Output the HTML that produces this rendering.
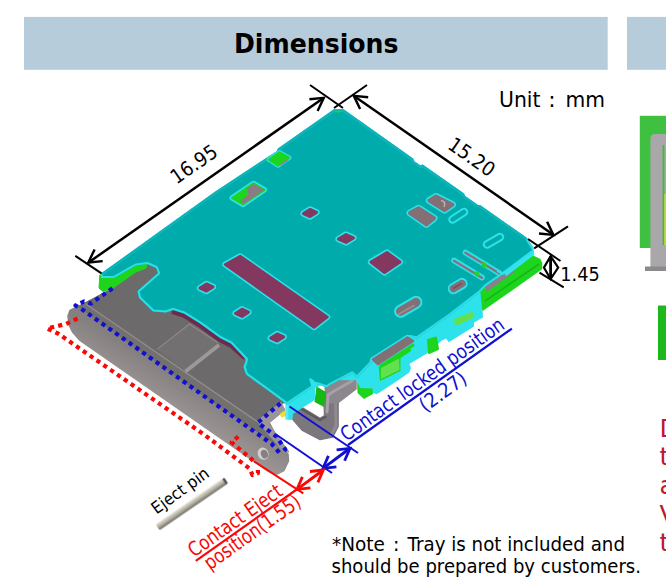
<!DOCTYPE html>
<html lang="en"><head><meta charset="utf-8"><title>Dimensions</title>
<style>
html,body{margin:0;padding:0;background:#fff;}
body{width:666px;height:584px;overflow:hidden;}
svg{display:block;font-family:"DejaVu Sans", "Liberation Sans", sans-serif;}
</style></head><body>
<svg width="666" height="584" viewBox="0 0 666 584">
<defs><filter id="soft" x="-5%" y="-5%" width="110%" height="110%"><feGaussianBlur stdDeviation="0.7"/></filter></defs>
<rect width="666" height="584" fill="#fff"/>
<rect x="24" y="16.9" width="583.7" height="52.9" fill="#b7ccdb"/>
<rect x="627" y="16.9" width="39" height="52.9" fill="#b7ccdb"/>
<text x="316.2" y="53.3" font-size="27.2" fill="#000" text-anchor="middle" font-weight="bold" textLength="164.5" lengthAdjust="spacingAndGlyphs" >Dimensions</text>
<text x="499" y="106.7" font-size="22" fill="#000" text-anchor="start" font-weight="normal" textLength="41.5" lengthAdjust="spacingAndGlyphs" >Unit</text>
<text x="548.2" y="106.7" font-size="22" fill="#000" text-anchor="start" font-weight="normal" >:</text>
<text x="565.5" y="106.7" font-size="22" fill="#000" text-anchor="start" font-weight="normal" textLength="39.5" lengthAdjust="spacingAndGlyphs" >mm</text>
<g filter="url(#soft)">
<rect x="639.8" y="115.8" width="30" height="132.2" fill="#3fc03f"/>
<path d="M650.4 270 V139 q0 -5 5 -5 H670 V270 Z" fill="#aaa7ab"/>
<rect x="645" y="266.5" width="25" height="4.5" fill="#8c8a8c"/>
<rect x="662.6" y="145" width="1.8" height="100" fill="#35c035"/>
<rect x="664.3" y="194" width="4" height="51" fill="#c3dc2c"/>
<rect x="658" y="305.5" width="10" height="54.5" fill="#1fb81f"/>
</g>
<text x="659.5" y="437" font-size="25" fill="#bc1830" text-anchor="start" font-weight="normal" >D</text>
<text x="659.5" y="465" font-size="25" fill="#bc1830" text-anchor="start" font-weight="normal" >t</text>
<text x="659.5" y="494" font-size="25" fill="#bc1830" text-anchor="start" font-weight="normal" >a</text>
<text x="659.5" y="523" font-size="25" fill="#bc1830" text-anchor="start" font-weight="normal" >V</text>
<text x="659.5" y="551" font-size="25" fill="#bc1830" text-anchor="start" font-weight="normal" >t</text>
<g id="tray" filter="url(#soft)">
<defs><linearGradient id="tg" gradientUnits="userSpaceOnUse" x1="150" y1="360" x2="132" y2="390"><stop offset="0" stop-color="#858080"/><stop offset="1" stop-color="#9c9695"/></linearGradient></defs>
<polygon points="76.0,307.5 70.0,310.5 68.0,316.0 69.0,325.0 72.5,332.0 80.0,340.5 268.5,471.4 277.0,474.0 284.0,470.5 288.5,461.0 288.0,454.0 283.0,449.0 270.0,424.0 250.0,400.0 150.0,320.0 100.0,300.0" fill="url(#tg)" stroke="url(#tg)" stroke-width="1.5" stroke-linejoin="round" />
<polygon points="78.0,306.5 112.0,288.5 146.0,263.0 162.0,268.0 300.0,380.0 300.0,400.0 281.0,403.5 257.5,423.0 283.0,449.0" fill="#6c6a6a" stroke="#6c6a6a" stroke-width="1" stroke-linejoin="round" />
<polygon points="84.0,302.7 150.0,348.0 257.0,421.4 257.5,423.5 283.0,449.0 212.6,402.5 83.0,310.5 78.0,306.8" fill="#737070" />
<polygon points="257.0,421.0 281.0,402.5 285.0,410.0 268.5,423.5 289.0,452.0 284.0,452.0" fill="#9b9595" stroke="#9b9595" stroke-width="1" stroke-linejoin="round" />
<polyline points="172.0,311.5 184.0,315.5 200.0,325.5 220.0,340.0 231.0,345.5 245.0,358.0" fill="none" stroke="#6d2c50" stroke-width="4.5" />
<polyline points="84.0,302.7 150.0,348.0 257.0,421.4" fill="none" stroke="#938d8d" stroke-width="1.3" />
<polygon points="157.0,349.4 189.5,324.0 218.3,343.0 185.0,370.5" fill="#727070" />
<polyline points="157.0,349.4 189.5,324.0 218.3,343.0" fill="none" stroke="#8f8989" stroke-width="1.2" />
<polyline points="219.0,345.0 185.5,371.5" fill="none" stroke="#9d9999" stroke-width="3.8" />
<ellipse cx="263" cy="454" rx="5.4" ry="6.2" fill="#d2cece" transform="rotate(-20 262 453.5)"/>
<ellipse cx="264.3" cy="454.5" rx="3.4" ry="4.4" fill="#858080" transform="rotate(-20 263 454)"/>
</g>
<g id="conn" filter="url(#soft)">
<polygon points="323.7,392.0 338.1,392.0 338.1,426.5 332.7,437.0 320.1,439.5 302.0,430.0 292.7,419.3 291.3,408.0 300.3,406.7 309.3,412.0 320.0,418.4 324.6,415.7" fill="#7b777c" stroke="#7b777c" stroke-width="1.5" stroke-linejoin="round" />
<polyline points="301.0,408.5 309.0,413.5 320.0,420.0 325.5,417.0" fill="none" stroke="#5d595e" stroke-width="2.5" stroke-linecap="round" stroke-linejoin="round"/>
<polyline points="335.5,398.0 336.0,426.0 331.0,435.0" fill="none" stroke="#8f8b90" stroke-width="3" stroke-linecap="round" stroke-linejoin="round"/>
<polygon points="325.0,388.0 330.0,384.0 352.0,374.0 356.0,379.5 356.0,389.0 339.0,402.0 329.0,403.0" fill="#8b878c" stroke="#8b878c" stroke-width="1.5" stroke-linejoin="round" />
<polyline points="352.0,381.0 335.0,390.5 328.0,395.0 327.0,412.0" fill="none" stroke="#a5a1a6" stroke-width="3" stroke-linecap="round" stroke-linejoin="round"/>
<polygon points="279.5,414.0 285.0,410.5 286.0,416.0 281.5,417.5" fill="#e8e030" />
<polygon points="285.5,400.0 285.5,419.5 292.5,420.0 293.0,414.0 314.7,400.0 315.5,388.0 330.0,380.0 357.0,380.3 359.0,389.5 373.2,393.0 376.8,394.2 398.5,380.0 409.3,372.5 411.0,367.7 409.3,364.0 427.3,353.2 441.6,340.7 446.0,338.5 448.8,342.3 474.0,326.5 474.0,322.5 483.0,317.5 481.5,289.0 450.0,300.0 350.0,350.0 300.0,380.0" fill="#2ee2ec" />
<polyline points="287.0,404.5 287.0,419.0" fill="none" stroke="#5ee9f2" stroke-width="2.4" />
<polygon points="316.5,386.5 326.0,392.0 324.0,407.0 314.5,402.0" fill="#14b814" />
<polygon points="357.0,381.0 360.0,388.0 372.5,388.5 373.0,394.0 364.0,399.0 357.5,393.0" fill="#1fd51f" />
<polygon points="378.5,365.0 410.0,345.0 411.0,351.0 400.5,358.0 400.5,371.0 380.0,381.0" fill="#1fd51f" />
<polygon points="381.0,368.0 399.0,358.5 399.5,370.0 381.0,379.0" fill="#62e04e" />
<polygon points="428.0,340.0 436.0,337.5 438.0,349.0 429.0,353.0" fill="#1fd51f" stroke="#1fd51f" stroke-width="2" stroke-linejoin="round" />
<polygon points="454.0,319.0 473.0,311.5 474.0,317.5 455.0,326.5" fill="#62e04e" />
<polygon points="481.0,291.0 486.0,286.0 504.0,272.0 529.0,254.0 534.5,257.0 539.8,259.5 541.6,263.0 541.3,269.0 483.0,310.0" fill="#1fd51f" stroke="#1fd51f" stroke-width="1.5" stroke-linejoin="round" />
<polyline points="485.0,301.0 539.0,264.0" fill="none" stroke="#12b812" stroke-width="1.6" />
<polygon points="485.5,284.5 503.7,273.7 514.0,268.0 514.5,272.0 486.5,292.0" fill="#8a8088" />
<polygon points="99.8,275.0 114.0,275.0 136.0,262.0 148.0,262.0 146.0,268.0 135.0,272.5 113.0,288.0 103.0,291.5 99.0,288.0" fill="#1fd51f" stroke="#1fd51f" stroke-width="1" stroke-linejoin="round" />
<clipPath id="topc"><polygon points="334.0,109.3 343.5,109.3 413.0,158.5 414.5,161.5 420.5,165.5 422.5,164.5 464.0,193.5 465.0,196.0 478.0,205.0 480.0,205.0 527.0,238.0 533.5,248.0 533.5,251.5 504.0,273.5 486.0,286.0 480.5,292.0 450.0,315.5 417.0,338.5 410.0,337.0 372.0,360.0 371.5,363.0 357.0,378.0 352.0,373.5 330.0,385.0 327.0,387.5 316.5,384.0 313.0,387.0 287.0,404.5 266.0,389.0 246.0,374.5 243.5,367.0 246.0,359.5 231.0,343.5 220.0,338.0 200.0,323.5 184.0,313.5 173.0,310.0 166.0,312.5 153.0,311.5 139.0,298.0 137.5,291.0 158.0,273.0 156.0,268.0 147.0,264.0 136.0,265.5 114.0,278.0 101.0,278.0 101.0,273.5 215.0,191.8 265.5,158.5 276.5,151.5 278.0,148.5"/></clipPath>
<polygon points="334.0,109.3 343.5,109.3 413.0,158.5 414.5,161.5 420.5,165.5 422.5,164.5 464.0,193.5 465.0,196.0 478.0,205.0 480.0,205.0 527.0,238.0 533.5,248.0 533.5,251.5 504.0,273.5 486.0,286.0 480.5,292.0 450.0,315.5 417.0,338.5 410.0,337.0 372.0,360.0 371.5,363.0 357.0,378.0 352.0,373.5 330.0,385.0 327.0,387.5 316.5,384.0 313.0,387.0 287.0,404.5 266.0,389.0 246.0,374.5 243.5,367.0 246.0,359.5 231.0,343.5 220.0,338.0 200.0,323.5 184.0,313.5 173.0,310.0 166.0,312.5 153.0,311.5 139.0,298.0 137.5,291.0 158.0,273.0 156.0,268.0 147.0,264.0 136.0,265.5 114.0,278.0 101.0,278.0 101.0,273.5 215.0,191.8 265.5,158.5 276.5,151.5 278.0,148.5" fill="#05abac"/>
<polygon points="334.0,109.3 343.5,109.3 413.0,158.5 414.5,161.5 420.5,165.5 422.5,164.5 464.0,193.5 465.0,196.0 478.0,205.0 480.0,205.0 527.0,238.0 533.5,248.0 533.5,251.5 504.0,273.5 486.0,286.0 480.5,292.0 450.0,315.5 417.0,338.5 410.0,337.0 372.0,360.0 371.5,363.0 357.0,378.0 352.0,373.5 330.0,385.0 327.0,387.5 316.5,384.0 313.0,387.0 287.0,404.5 266.0,389.0 246.0,374.5 243.5,367.0 246.0,359.5 231.0,343.5 220.0,338.0 200.0,323.5 184.0,313.5 173.0,310.0 166.0,312.5 153.0,311.5 139.0,298.0 137.5,291.0 158.0,273.0 156.0,268.0 147.0,264.0 136.0,265.5 114.0,278.0 101.0,278.0 101.0,273.5 215.0,191.8 265.5,158.5 276.5,151.5 278.0,148.5" fill="none" stroke="#2ee2ec" stroke-width="4.2" stroke-linejoin="round" clip-path="url(#topc)" opacity="0.9"/>
<polyline points="101.0,273.5 215.0,191.8 265.5,158.5 276.5,151.5 278.0,148.5 334.0,109.3 343.5,109.3 413.0,158.5 414.5,161.5 420.5,165.5 422.5,164.5 464.0,193.5 465.0,196.0 478.0,205.0 480.0,205.0 527.0,238.0" fill="none" stroke="#0fb3b9" stroke-width="4.6" stroke-linejoin="round" clip-path="url(#topc)"/>
<polygon points="309.0,378.5 311.5,378.5 317.5,384.0 314.0,388.5 311.5,387.0" fill="#2ee2ec" />
<circle cx="338.3" cy="111.6" r="1.3" fill="#22d422"/>
<polygon points="505.0,273.3 533.6,250.3 534.3,254.8 506.0,276.3" fill="#35e4ee" />
<polygon points="268.4,159.7 279.4,152.0 289.7,157.6 278.0,165.8" fill="#2ee2ec" stroke="#2ee2ec" stroke-width="3.9" stroke-linejoin="round"/>
<polygon points="268.4,159.7 279.4,152.0 289.7,157.6 278.0,165.8" fill="#1fd51f" stroke="#1fd51f" stroke-width="1.5" stroke-linejoin="round"/>
<polygon points="279.0,165.0 289.5,158.0 287.0,161.5 281.0,165.5" fill="#8a8088" />
<polygon points="232.0,198.0 253.4,183.3 264.5,189.8 243.0,204.5" fill="#2ee2ec" stroke="#2ee2ec" stroke-width="5.2" stroke-linejoin="round"/>
<polygon points="232.0,198.0 253.4,183.3 264.5,189.8 243.0,204.5" fill="#1fd51f" stroke="#1fd51f" stroke-width="2" stroke-linejoin="round"/>
<polygon points="247.0,188.0 254.0,184.0 264.5,189.8 244.0,204.0 240.0,201.5 248.0,195.0" fill="#8a7c84" />
<polygon points="225.0,264.5 240.2,256.0 327.5,317.0 314.0,327.5" fill="#2ee2ec" stroke="#2ee2ec" stroke-width="5.5" stroke-linejoin="round"/>
<polygon points="225.0,264.5 240.2,256.0 327.5,317.0 314.0,327.5" fill="#85385e" stroke="#85385e" stroke-width="2.5" stroke-linejoin="round"/>
<polygon points="303.5,213.6 310.0,209.4 316.5,212.4 310.0,216.6" fill="#2ee2ec" stroke="#2ee2ec" stroke-width="6.2" stroke-linejoin="round"/>
<polygon points="303.5,213.6 310.0,209.4 316.5,212.4 310.0,216.6" fill="#85385e" stroke="#85385e" stroke-width="3" stroke-linejoin="round"/>
<polygon points="338.5,239.1 346.0,234.5 353.5,237.9 346.0,242.5" fill="#2ee2ec" stroke="#2ee2ec" stroke-width="6.2" stroke-linejoin="round"/>
<polygon points="338.5,239.1 346.0,234.5 353.5,237.9 346.0,242.5" fill="#85385e" stroke="#85385e" stroke-width="3" stroke-linejoin="round"/>
<polygon points="371.0,262.0 387.0,252.5 400.0,262.0 384.5,272.5" fill="#2ee2ec" stroke="#2ee2ec" stroke-width="6.2" stroke-linejoin="round"/>
<polygon points="371.0,262.0 387.0,252.5 400.0,262.0 384.5,272.5" fill="#85385e" stroke="#85385e" stroke-width="3" stroke-linejoin="round"/>
<polygon points="200.0,288.1 206.5,283.9 213.0,286.9 206.5,291.1" fill="#2ee2ec" stroke="#2ee2ec" stroke-width="6.2" stroke-linejoin="round"/>
<polygon points="200.0,288.1 206.5,283.9 213.0,286.9 206.5,291.1" fill="#85385e" stroke="#85385e" stroke-width="3" stroke-linejoin="round"/>
<polygon points="235.5,313.4 242.0,309.2 248.5,312.2 242.0,316.4" fill="#2ee2ec" stroke="#2ee2ec" stroke-width="6.2" stroke-linejoin="round"/>
<polygon points="235.5,313.4 242.0,309.2 248.5,312.2 242.0,316.4" fill="#85385e" stroke="#85385e" stroke-width="3" stroke-linejoin="round"/>
<polygon points="270.7,338.1 277.2,333.9 283.7,336.9 277.2,341.1" fill="#2ee2ec" stroke="#2ee2ec" stroke-width="6.2" stroke-linejoin="round"/>
<polygon points="270.7,338.1 277.2,333.9 283.7,336.9 277.2,341.1" fill="#85385e" stroke="#85385e" stroke-width="3" stroke-linejoin="round"/>
<polygon points="429.3,200.6 436.0,196.5 452.4,204.7 444.5,210.0" fill="#2ee2ec" stroke="#2ee2ec" stroke-width="7.0" stroke-linejoin="round"/>
<polygon points="429.3,200.6 436.0,196.5 452.4,204.7 444.5,210.0" fill="#836f76" stroke="#836f76" stroke-width="4" stroke-linejoin="round"/>
<path d="M441 200.5 q5.5 1 3 6.5" fill="none" stroke="#b9aeb3" stroke-width="1.6"/>
<polygon points="410.0,213.0 418.5,208.2 434.0,218.2 426.4,224.4" fill="#2ee2ec" stroke="#2ee2ec" stroke-width="7.0" stroke-linejoin="round"/>
<polygon points="410.0,213.0 418.5,208.2 434.0,218.2 426.4,224.4" fill="#836f76" stroke="#836f76" stroke-width="4" stroke-linejoin="round"/>
<line x1="452.5" y1="219.5" x2="464" y2="212" stroke="#2ee2ec" stroke-width="8.5" stroke-linecap="round"/>
<line x1="452.5" y1="219.5" x2="464" y2="212" stroke="#05abac" stroke-width="4.5" stroke-linecap="round"/>
<line x1="487" y1="244.5" x2="500" y2="237" stroke="#2ee2ec" stroke-width="8.5" stroke-linecap="round"/>
<line x1="487" y1="244.5" x2="500" y2="237" stroke="#05abac" stroke-width="4.5" stroke-linecap="round"/>
<line x1="465.5" y1="252.5" x2="499" y2="273" stroke="#2ee2ec" stroke-width="5.6" stroke-linecap="round"/>
<line x1="465.5" y1="252.8" x2="499" y2="273.3" stroke="#8a6f7c" stroke-width="2.4" stroke-linecap="round"/>
<line x1="454" y1="260.5" x2="482" y2="277.5" stroke="#2ee2ec" stroke-width="5.6" stroke-linecap="round"/>
<line x1="454" y1="260.8" x2="482" y2="277.8" stroke="#8a6f7c" stroke-width="2.4" stroke-linecap="round"/>
<polygon points="481.0,263.0 485.0,262.0 487.5,267.0 483.0,268.0" fill="#1fd51f" />
<polygon points="474.0,272.0 478.0,271.0 480.0,275.5 476.0,276.5" fill="#1fd51f" />
<polyline points="497.0,271.0 503.5,273.5 532.0,252.0" fill="none" stroke="#2ee2ec" stroke-width="2.4" stroke-linejoin="round"/>
<line x1="453.5" y1="288.6" x2="462" y2="283.6" stroke="#2ee2ec" stroke-width="11.5" stroke-linecap="round"/>
<line x1="453.5" y1="288.6" x2="462" y2="283.6" stroke="#836f76" stroke-width="7.5" stroke-linecap="round"/>
<line x1="453" y1="288.5" x2="462" y2="283.3" stroke="#7a4a66" stroke-width="1.5" />
<line x1="400.5" y1="311.3" x2="416" y2="302.3" stroke="#2ee2ec" stroke-width="13" stroke-linecap="round"/>
<line x1="400.5" y1="311.3" x2="416" y2="302.3" stroke="#836f76" stroke-width="9" stroke-linecap="round"/>
<line x1="399" y1="314" x2="414" y2="305.5" stroke="#9a8e94" stroke-width="2" stroke-linecap="round"/>
<polygon points="373.0,359.5 407.5,337.5 413.0,341.0 378.0,364.0" fill="#2ee2ec" stroke="#2ee2ec" stroke-width="5.3" stroke-linejoin="round"/>
<polygon points="373.0,359.5 407.5,337.5 413.0,341.0 378.0,364.0" fill="#836f76" stroke="#836f76" stroke-width="2.5" stroke-linejoin="round"/>
<polyline points="380.0,366.5 414.0,344.5" fill="none" stroke="#1fd51f" stroke-width="3" />
</g>
<line x1="88.5" y1="262.5" x2="323.5" y2="98" stroke="#000" stroke-width="2.5" />
<polyline points="309.4,99.2 323.8,97.8 317.6,110.9" fill="none" stroke="#000" stroke-width="2.4" stroke-linejoin="miter"/>
<polyline points="102.7,261.1 88.3,262.5 94.6,249.4" fill="none" stroke="#000" stroke-width="2.4" stroke-linejoin="miter"/>
<line x1="354" y1="96" x2="553" y2="234.5" stroke="#000" stroke-width="2.5" />
<polyline points="360.1,108.9 353.8,95.8 368.2,97.2" fill="none" stroke="#000" stroke-width="2.4" stroke-linejoin="miter"/>
<polyline points="547.1,221.8 553.4,234.9 539.0,233.5" fill="none" stroke="#000" stroke-width="2.4" stroke-linejoin="miter"/>
<line x1="75.3" y1="255.8" x2="101.5" y2="273.3" stroke="#000" stroke-width="2" />
<line x1="310" y1="85" x2="343" y2="108" stroke="#000" stroke-width="2" />
<line x1="367" y1="85" x2="334" y2="108" stroke="#000" stroke-width="2" />
<line x1="568" y1="226.3" x2="534.2" y2="248.4" stroke="#000" stroke-width="2" />
<line x1="528" y1="239" x2="560.5" y2="261" stroke="#000" stroke-width="2" />
<line x1="539.5" y1="272.6" x2="563.7" y2="287.4" stroke="#000" stroke-width="2" />
<line x1="550.6" y1="256" x2="550.6" y2="279" stroke="#000" stroke-width="2.8" />
<polygon points="543.9,267.6 550.6,256.2 558.2,267.6 550.6,279.0" fill="none" stroke="#000" stroke-width="2.2" stroke-linejoin="miter"/>
<text transform="translate(166.5 207) rotate(-35)" x="21" y="-12.5" font-size="20" fill="#000" textLength="52" lengthAdjust="spacingAndGlyphs">16.95</text>
<text transform="translate(425 144.3) rotate(35)" x="19.5" y="-9.5" font-size="20" fill="#000" textLength="52" lengthAdjust="spacingAndGlyphs">15.20</text>
<text x="560.3" y="281" font-size="19" fill="#000" text-anchor="start" font-weight="normal" textLength="39.5" lengthAdjust="spacingAndGlyphs" >1.45</text>
<line x1="289.5" y1="406.5" x2="358" y2="453" stroke="#1010d0" stroke-width="2" />
<line x1="275.7" y1="434.2" x2="332" y2="473" stroke="#1010d0" stroke-width="2" />
<line x1="324" y1="467.6" x2="349" y2="449" stroke="#1010d0" stroke-width="3" />
<polyline points="336.4,466.8 323.0,468.3 328.4,455.9" fill="none" stroke="#1010d0" stroke-width="2.8" stroke-linejoin="miter"/>
<polyline points="336.6,449.8 350.0,448.3 344.6,460.7" fill="none" stroke="#1010d0" stroke-width="2.8" stroke-linejoin="miter"/>
<line x1="348" y1="445" x2="511.9" y2="328.6" stroke="#1010d0" stroke-width="2.2" />
<text transform="translate(348 445.6) rotate(-35.6)" x="1" y="-3.8" font-size="20" fill="#1010d0" textLength="196" lengthAdjust="spacingAndGlyphs">Contact locked position</text>
<text transform="translate(348 445.6) rotate(-35.6)" x="82" y="18.2" font-size="20" fill="#1010d0" textLength="53" lengthAdjust="spacingAndGlyphs">(2.27)</text>
<line x1="254" y1="461.3" x2="303.3" y2="493.3" stroke="#fa0808" stroke-width="2" />
<line x1="298" y1="488.6" x2="322.3" y2="470.7" stroke="#fa0808" stroke-width="3" />
<polyline points="310.4,487.8 297.0,489.3 302.4,476.9" fill="none" stroke="#fa0808" stroke-width="2.8" stroke-linejoin="miter"/>
<polyline points="309.9,471.5 323.3,470.0 317.9,482.4" fill="none" stroke="#fa0808" stroke-width="2.8" stroke-linejoin="miter"/>
<line x1="296.7" y1="489.5" x2="195.8" y2="560.9" stroke="#fa0808" stroke-width="2.2" />
<text transform="translate(195.8 560.9) rotate(-35.3)" x="0.3" y="-3.5" font-size="20" fill="#fa0808" textLength="110.3" lengthAdjust="spacingAndGlyphs">Contact Eject</text>
<text transform="translate(195.8 560.9) rotate(-35.3)" x="6.1" y="16" font-size="20" fill="#fa0808" textLength="113.2" lengthAdjust="spacingAndGlyphs">position(1.55)</text>
<polyline points="112.5,288.3 91.0,303.5 84.0,301.5 75.5,305.5 83.0,310.0 212.6,402.1 271.5,443.7 280.5,454.0" fill="none" stroke="#1010d0" stroke-width="4.2" stroke-dasharray="4.2 4.1" stroke-linejoin="round"/>
<polyline points="280.5,403.3 257.8,422.7 276.3,436.5 285.3,449.5 281.5,453.0" fill="none" stroke="#1010d0" stroke-width="4.2" stroke-dasharray="4.2 4.1" stroke-linejoin="round"/>
<polyline points="77.5,318.5 66.0,324.0 47.0,328.5 58.0,333.5 203.6,434.2 249.5,468.5 252.5,475.0 258.0,473.0 257.7,466.0" fill="none" stroke="#fa0808" stroke-width="4.2" stroke-dasharray="4.2 4.1" stroke-linejoin="round"/>
<polyline points="238.3,436.5 231.5,442.3 254.0,461.3" fill="none" stroke="#fa0808" stroke-width="4.2" stroke-dasharray="4.2 4.1" stroke-linejoin="round"/>
<defs><linearGradient id="pg" x1="0" y1="0" x2="0" y2="1"><stop offset="0" stop-color="#e6e4da"/><stop offset="0.35" stop-color="#c4c2b4"/><stop offset="0.7" stop-color="#9a988a"/><stop offset="1" stop-color="#5e5c52"/></linearGradient></defs>
<g transform="translate(157.5 527.3) rotate(-34.4)" filter="url(#soft)"><rect x="0" y="-3.6" width="83" height="7.2" rx="1.5" fill="url(#pg)"/><rect x="80.6" y="-3.3" width="2.6" height="6.6" rx="1" fill="#55534d"/></g>
<text transform="translate(156.6 514.7) rotate(-35.9)" x="0" y="0" font-size="16.8" fill="#000" textLength="66.5" lengthAdjust="spacingAndGlyphs">Eject pin</text>
<text x="332" y="551" font-size="19" fill="#000" text-anchor="start" font-weight="normal" textLength="53" lengthAdjust="spacingAndGlyphs" >*Note</text>
<text x="393" y="551" font-size="19" fill="#000" text-anchor="start" font-weight="normal" >:</text>
<text x="407.5" y="551" font-size="19" fill="#000" text-anchor="start" font-weight="normal" textLength="217.5" lengthAdjust="spacingAndGlyphs" >Tray is not included and</text>
<text x="331.5" y="573" font-size="19" fill="#000" text-anchor="start" font-weight="normal" textLength="309.5" lengthAdjust="spacingAndGlyphs" >should be prepared by customers.</text>
</svg>
</body></html>
